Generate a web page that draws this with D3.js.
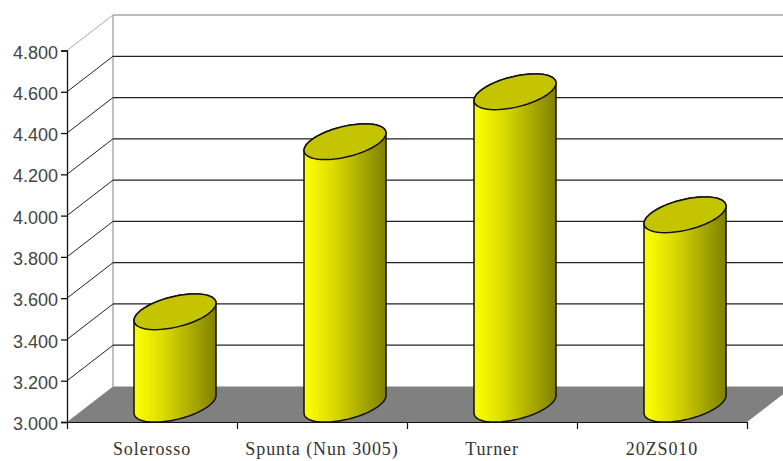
<!DOCTYPE html>
<html><head><meta charset="utf-8">
<script src="https://cdn.jsdelivr.net/npm/d3@7"></script>
<style>html,body{margin:0;padding:0;background:#fff;overflow:hidden}svg{display:block}</style>
</head><body><svg id="c" width="783" height="461"></svg>
<script>
const categories = ["Solerosso", "Spunta (Nun 3005)", "Turner", "20ZS010"];
const values = [3.448, 4.272, 4.514, 3.918];
const yTicks = [3.0, 3.2, 3.4, 3.6, 3.8, 4.0, 4.2, 4.4, 4.6, 4.8];

const W = 783, plotL = 67, plotR = 747, plotB = 422, plotT = 50.5;
const dx = 46, dy = -35.5, rx = 41, skew = 8.7, ry = 15.6;
const svg = d3.select("#c");
const y = d3.scaleLinear().domain([3.0, 4.8]).range([plotB, plotT]);
const x = d3.scaleBand().domain(categories).range([plotL, plotR]);

const defs = svg.append("defs");
const grad = defs.append("linearGradient").attr("id", "cyl");
[[0,"#ffff00"],[0.14,"#f2f200"],[0.38,"#d8d800"],[0.62,"#b6b600"],[0.86,"#949400"],[1,"#808000"]]
  .forEach(([o,c]) => grad.append("stop").attr("offset", o).attr("stop-color", c));

// floor: runs from the front edge back to the wall and is cut by the right side of the picture
const fy = y(3.0);
const rightEdgeY = fy + dy * (W - plotR) / dx;
svg.append("path")
  .attr("d", `M${plotL},${fy}L${plotL+dx},${fy+dy}L${W},${fy+dy}L${W},${rightEdgeY}L${plotR},${fy}Z`)
  .attr("fill", "#808080");

// back wall borders
svg.append("line").attr("x1", plotL+dx).attr("x2", plotL+dx).attr("y1", y(4.8)+dy).attr("y2", fy+dy)
  .attr("stroke", "#a6a6a6").attr("stroke-width", 1.4);
svg.append("line").attr("x1", plotL+dx).attr("x2", W).attr("y1", y(4.8)+dy).attr("y2", y(4.8)+dy)
  .attr("stroke", "#a6a6a6").attr("stroke-width", 1.4);

// gridlines
yTicks.forEach(t => {
  const isTop = t === 4.8, py = y(t);
  if (t === 3.0) return;
  svg.append("line").attr("x1", plotL).attr("y1", py).attr("x2", plotL+dx).attr("y2", py+dy)
    .attr("stroke", isTop ? "#a6a6a6" : "#222").attr("stroke-width", 1);
  if (!isTop) svg.append("line").attr("x1", plotL+dx).attr("x2", W).attr("y1", py+dy).attr("y2", py+dy)
    .attr("stroke", "#222").attr("stroke-width", 1.3);
});

// cylinders
function ellipse(cx, cy, from, to) {
  return d3.range(0, 61).map(i => {
    const t = from + (to - from) * i / 60;
    return [cx + rx * Math.cos(t), cy - skew * Math.cos(t) - ry * Math.sin(t)];
  });
}
const line = d3.line();
categories.forEach((c, i) => {
  const cx = x(c) + x.bandwidth() / 2 + dx / 2;
  const cyTop = y(values[i]) + dy / 2;
  const cyBase = y(3.0) + dy / 2;
  const front = ellipse(cx, cyBase, Math.PI, 2 * Math.PI);
  const topBack = ellipse(cx, cyTop, 0, Math.PI);
  svg.append("path")
    .attr("d", line(front.concat(topBack)) + "Z")
    .attr("fill", "url(#cyl)").attr("stroke", "#111").attr("stroke-width", 1.5);
  svg.append("path")
    .attr("d", line(ellipse(cx, cyTop, 0, 2 * Math.PI)) + "Z")
    .attr("fill", "#c4c400").attr("stroke", "#111").attr("stroke-width", 1.5);
});

// axes
const yAxis = d3.axisLeft(y).tickValues(yTicks).tickFormat(d3.format(".3f")).tickSize(6).tickPadding(3);
const gy = svg.append("g").attr("transform", `translate(${plotL},0)`).call(yAxis);
gy.selectAll("text").attr("font-family", "'Liberation Sans',Arial,sans-serif").attr("font-size", 18)
  .attr("dy", "0.42em").attr("fill", "#444");
gy.selectAll("line,path").attr("stroke", "#111").attr("stroke-width", 1.3);

const edge = d3.scaleLinear().domain([0, categories.length]).range([plotL, plotR]);
const gt = svg.append("g").attr("transform", `translate(0,${fy})`)
  .call(d3.axisBottom(edge).tickValues(d3.range(0, categories.length + 1)).tickFormat("").tickSize(7).tickSizeOuter(0));
gt.selectAll("line,path").attr("stroke", "#111").attr("stroke-width", 1.2);

const gx = svg.append("g").attr("transform", `translate(0,${fy})`)
  .call(d3.axisBottom(x).tickSize(0).tickPadding(20));
gx.select("path").remove();
gx.selectAll("text").attr("font-family", "'Liberation Serif','Times New Roman',serif")
  .attr("font-size", 18).attr("letter-spacing", 0.9).attr("fill", "#333");
</script></body></html>
